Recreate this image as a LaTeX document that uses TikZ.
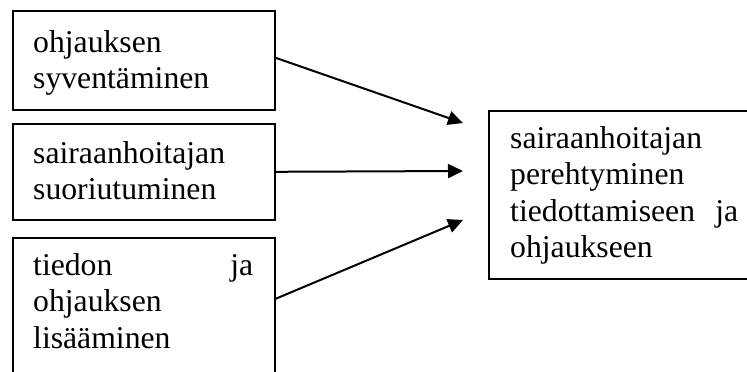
\documentclass[tikz,border=0pt]{standalone}
\usepackage{fontspec}
\setmainfont{Liberation Serif}
\usetikzlibrary{arrows.meta}
\begin{document}
\begin{tikzpicture}[x=1pt,y=-1pt,
  box/.style={draw, line width=1.6pt, rectangle, inner sep=0pt, anchor=north west},
  txt/.style={anchor=base west, inner sep=0pt, align=left,
    font=\fontsize{31.7}{36.5}\selectfont},
  link/.style={line width=2pt, -{Triangle[length=15pt,width=14pt]}}]
\useasboundingbox (0,0) rectangle (747,372);
\clip (0,0) rectangle (747,372);

% left column of boxes
\node[box, minimum width=262pt, minimum height=99pt]  (b1) at (12,10)  {};
\node[box, minimum width=262pt, minimum height=96pt]  (b2) at (12,123) {};
\node[box, minimum width=262pt, minimum height=163pt] (b3) at (12,237) {};

% target box on the right (runs past the page edge)
\node[box, minimum width=272pt, minimum height=168pt] (r) at (488,110) {};

% box texts
\node[txt, text width=220pt] (b1t) at (33,52)  {ohjauksen\\syventäminen};
\node[txt, text width=220pt] (b2t) at (33,163) {sairaanhoitajan\\suoriutuminen};
\node[txt, text width=220pt] (b3t) at (33,275) {tiedon\hfill ja\\ohjauksen\\lisääminen};
\node[txt, text width=228pt] (rt)  at (510,148)
  {sairaanhoitajan\\perehtyminen\\tiedottamiseen\hfill ja\\ohjaukseen};

% arrow tips in front of the target box
\coordinate (t1) at (463,123);
\coordinate (t2) at (463,171);
\coordinate (t3) at (463,220);

\draw[link] ([yshift=2.5pt]b1.east)  -- (t1);
\draw[link] (b2.east)                -- (t2);
\draw[link] ([yshift=20.5pt]b3.east) -- (t3);
\end{tikzpicture}
\end{document}
